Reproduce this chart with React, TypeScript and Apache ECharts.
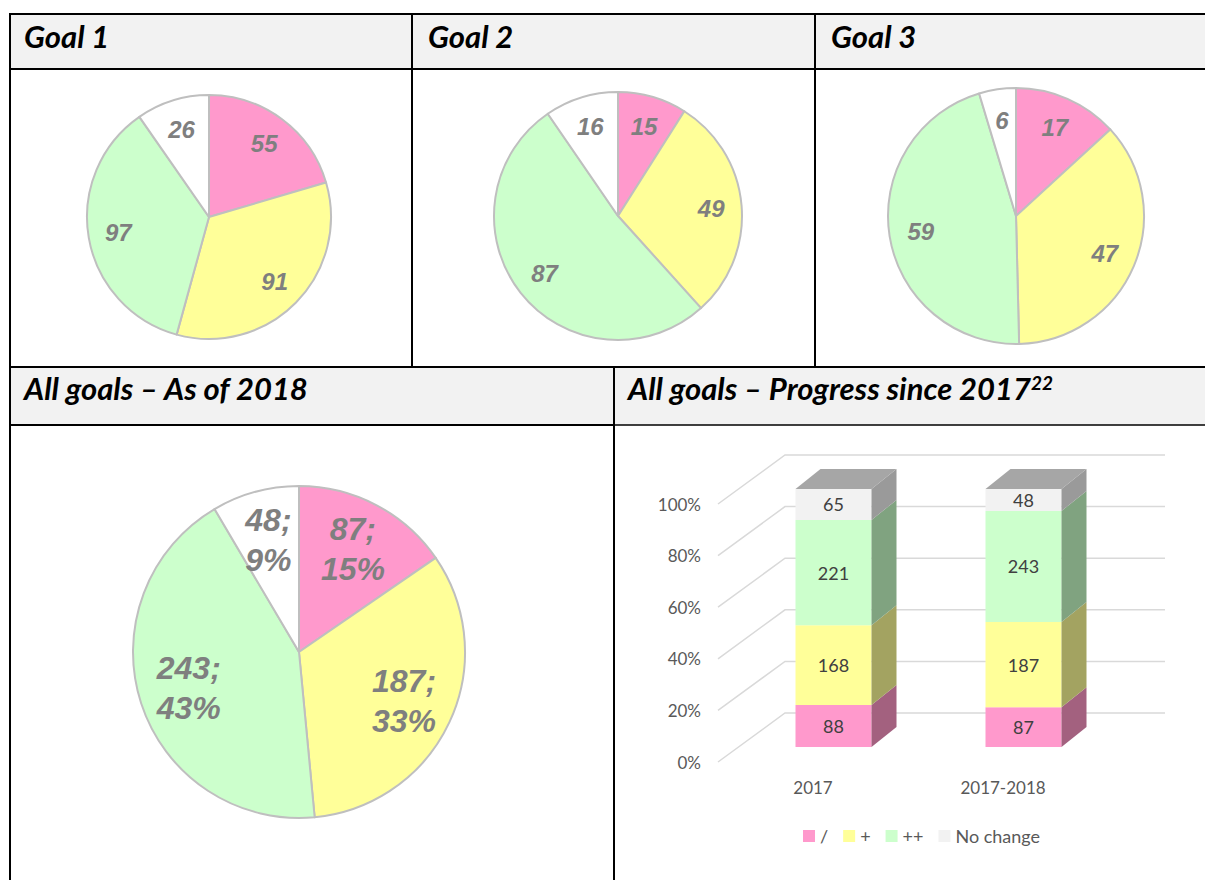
import React, { useEffect, useRef } from "react";
import * as echarts from "echarts";

// ---------- data ----------
const sliceNames = ["/", "+", "++", "No change"];
const sliceColors = ["#ff99cc", "#ffff99", "#ccffcc", "#ffffff"];
const goal1Values = [55, 91, 97, 26];
const goal2Values = [15, 49, 87, 16];
const goal3Values = [17, 47, 59, 6];
const allGoalsValues = [87, 187, 243, 48];

const barCategories = ["2017", "2017-2018"];
const barSeriesNames = ["/", "+", "++", "No change"];
const barColors = ["#ff99cc", "#ffff99", "#ccffcc", "#f2f2f2"];
const barSideColors = ["#a3617f", "#a3a361", "#80a380", "#9a9a9a"];
const slashValues = [88, 87];
const plusValues = [168, 187];
const plusPlusValues = [221, 243];
const noChangeValues = [65, 48];
const percentTicks = [0, 20, 40, 60, 80, 100];

const goalTitles = ["Goal 1", "Goal 2", "Goal 3"];
const allGoalsTitle = "All goals – As of 2018";
const progressTitle = "All goals – Progress since 2017";
const progressFootnote = "22";

// ---------- layout constants ----------
const FRONT_TO_BAR = [20.5, -15];
const FRONT_TO_BACK = [67, -49];
const BAR_DEPTH = [25, -20];
const LABEL_GRAY = "#7f7f7f";
const PIE_FONT = "'Liberation Sans', Arial, sans-serif";
const HEAD_FONT = "Lato, 'Open Sans', sans-serif";

function pieSeries(values: number[], cx: number, cy: number, r: number, labelRatio: number, fontSize: number, formatter: string, lineHeight?: number) {
  const data = values.map((v, i) => ({ name: sliceNames[i], value: v, itemStyle: { color: sliceColors[i] } }));
  const labelData = values.map((v, i) => ({ name: sliceNames[i], value: v }));
  return [
    {
      type: "pie",
      center: [cx, cy],
      radius: r,
      startAngle: 90,
      clockwise: true,
      data,
      label: { show: false },
      labelLine: { show: false },
      itemStyle: { borderColor: "#bfbfbf", borderWidth: 2 },
      emphasis: { disabled: true },
      silent: true,
      z: 2,
    },
    {
      type: "pie",
      center: [cx, cy],
      radius: [r * (2 * labelRatio - 1), r],
      startAngle: 90,
      clockwise: true,
      percentPrecision: 0,
      data: labelData,
      itemStyle: { color: "rgba(0,0,0,0)", borderWidth: 0 },
      label: {
        show: true,
        position: "inside",
        formatter,
        color: LABEL_GRAY,
        fontFamily: PIE_FONT,
        fontWeight: "bold",
        fontStyle: "italic",
        fontSize,
        lineHeight: lineHeight || fontSize,
        align: "center",
      },
      labelLine: { show: false },
      emphasis: { disabled: true },
      silent: true,
      z: 3,
    },
  ];
}

const barStacks = [slashValues, plusValues, plusPlusValues, noChangeValues];
const barTotals = barCategories.map((_, c) => barStacks.reduce((s, arr) => s + arr[c], 0));

function barSeries() {
  return barStacks.map((arr, s) => {
    const data = barCategories.map((_, c) => {
      let before = 0;
      for (let k = 0; k < s; k++) before += barStacks[k][c];
      const start = (before / barTotals[c]) * 100;
      const end = ((before + arr[c]) / barTotals[c]) * 100;
      return [c, start, end, arr[c]];
    });
    const isTop = s === barStacks.length - 1;
    return {
      type: "custom",
      name: barSeriesNames[s],
      itemStyle: { color: barColors[s] },
      encode: { x: 0, y: [1, 2] },
      silent: true,
      z: 5,
      data,
      renderItem: (params: any, api: any) => {
        const c = api.value(0);
        const pb = api.coord([c, api.value(1)]);
        const pt = api.coord([c, api.value(2)]);
        const bw = api.size([1, 0])[0] * 0.4;
        const x0 = pb[0] + FRONT_TO_BAR[0] - bw / 2;
        const x1 = x0 + bw;
        const yB = pb[1] + FRONT_TO_BAR[1];
        const yT = pt[1] + FRONT_TO_BAR[1];
        const [dx, dy] = BAR_DEPTH;
        const children: any[] = [
          {
            type: "rect",
            shape: { x: x0, y: yT, width: bw, height: yB - yT },
            style: { fill: barColors[s] },
          },
          {
            type: "polygon",
            shape: { points: [[x1, yB], [x1 + dx, yB + dy], [x1 + dx, yT + dy], [x1, yT]] },
            style: { fill: barSideColors[s] },
          },
        ];
        if (isTop) {
          children.push({
            type: "polygon",
            shape: { points: [[x0, yT], [x0 + dx, yT + dy], [x1 + dx, yT + dy], [x1, yT]] },
            style: { fill: "#a6a6a6" },
          });
        }
        children.push({
          type: "text",
          x: (x0 + x1) / 2,
          y: (yT + yB) / 2,
          style: {
            text: String(api.value(3)),
            fill: "#404040",
            fontSize: 18,
            fontFamily: HEAD_FONT,
            align: "center",
            verticalAlign: "middle",
          },
        });
        return { type: "group", children };
      },
    };
  });
}

function gridLinesSeries() {
  return {
    type: "custom",
    silent: true,
    z: 1,
    encode: { x: 0, y: 1 },
    data: percentTicks.map((v) => [0, v]),
    renderItem: (params: any, api: any) => {
      const y = api.coord([0, api.value(1)])[1];
      const x0 = params.coordSys.x;
      const w = params.coordSys.width;
      const [bx, by] = FRONT_TO_BACK;
      return {
        type: "polyline",
        shape: { points: [[x0, y], [x0 + bx, y + by], [x0 + bx + w, y + by]] },
        style: { stroke: "#d9d9d9", lineWidth: 1.5, fill: "none" },
      };
    },
  };
}

function tableGraphics() {
  const els: any[] = [];
  const line = (x1: number, y1: number, x2: number, y2: number, w = 2) =>
    els.push({ type: "line", shape: { x1, y1, x2, y2 }, style: { stroke: "#000", lineWidth: w }, z: 50 });
  els.push({ type: "rect", shape: { x: 10, y: 14, width: 1195, height: 55 }, style: { fill: "#f2f2f2" }, z: 0 });
  els.push({ type: "rect", shape: { x: 10, y: 367, width: 1195, height: 58 }, style: { fill: "#f2f2f2" }, z: 0 });
  line(9, 14, 1205, 14);
  line(9, 69, 1205, 69);
  line(9, 367, 1205, 367);
  line(9, 425, 614, 425);
  line(614, 425, 1205, 425, 1.5);
  line(10, 13, 10, 880);
  line(412, 13, 412, 367);
  line(815, 13, 815, 367);
  line(614, 367, 614, 880);
  const headStyle = {
    fill: "#000",
    fontSize: 31,
    fontWeight: "bold",
    fontStyle: "italic",
    fontFamily: HEAD_FONT,
    verticalAlign: "middle",
  };
  const goalX = [24, 428, 831];
  goalTitles.forEach((t, i) => {
    els.push({ type: "text", x: goalX[i], y: 36, z: 60, style: { ...headStyle, text: t } });
  });
  els.push({ type: "text", x: 24, y: 388, z: 60, style: { ...headStyle, text: allGoalsTitle } });
  els.push({
    type: "text",
    x: 628,
    y: 388,
    z: 60,
    style: {
      ...headStyle,
      text: progressTitle + "{sup|" + progressFootnote + "}",
      rich: {
        sup: { fontSize: 19, fontWeight: "bold", fontStyle: "italic", fontFamily: HEAD_FONT, fill: "#000", verticalAlign: "top" },
      },
    },
  });
  return els;
}

export default function App() {
  const ref = useRef<HTMLDivElement>(null);
  useEffect(() => {
    if (!ref.current) return;
    const chart = echarts.init(ref.current, null, { renderer: "svg" });
    const option: any = {
      animation: false,
      backgroundColor: "#ffffff",
      graphic: { elements: tableGraphics() },
      grid: { left: 718, top: 504, width: 380, height: 258 },
      xAxis: {
        type: "category",
        data: barCategories,
        axisLine: { show: false },
        axisTick: { show: false },
        axisLabel: { color: "#595959", fontSize: 17, fontFamily: HEAD_FONT, margin: 17 },
        splitLine: { show: false },
      },
      yAxis: {
        type: "value",
        min: 0,
        max: 100,
        interval: 20,
        axisLine: { show: false },
        axisTick: { show: false },
        splitLine: { show: false },
        axisLabel: { formatter: "{value}%", color: "#595959", fontSize: 17, fontFamily: HEAD_FONT, margin: 17 },
      },
      legend: {
        data: barSeriesNames,
        left: 803,
        top: 827,
        padding: 0,
        icon: "rect",
        itemWidth: 12,
        itemHeight: 12,
        itemGap: 15,
        selectedMode: false,
        textStyle: { color: "#595959", fontSize: 18, fontFamily: HEAD_FONT },
      },
      series: [
        ...pieSeries(goal1Values, 209, 217, 122, 0.73, 24, "{c}"),
        ...pieSeries(goal2Values, 618, 216, 124, 0.73, 24, "{c}"),
        ...pieSeries(goal3Values, 1016, 216, 128, 0.73, 24, "{c}"),
        ...pieSeries(allGoalsValues, 299, 652, 166, 0.68, 32, "{c};\n{d}%", 40),
        gridLinesSeries(),
        ...barSeries(),
      ],
    };
    chart.setOption(option);
    return () => chart.dispose();
  }, []);
  return <div ref={ref} style={{ position: "absolute", left: 0, top: 0, width: 1205, height: 880 }} />;
}
